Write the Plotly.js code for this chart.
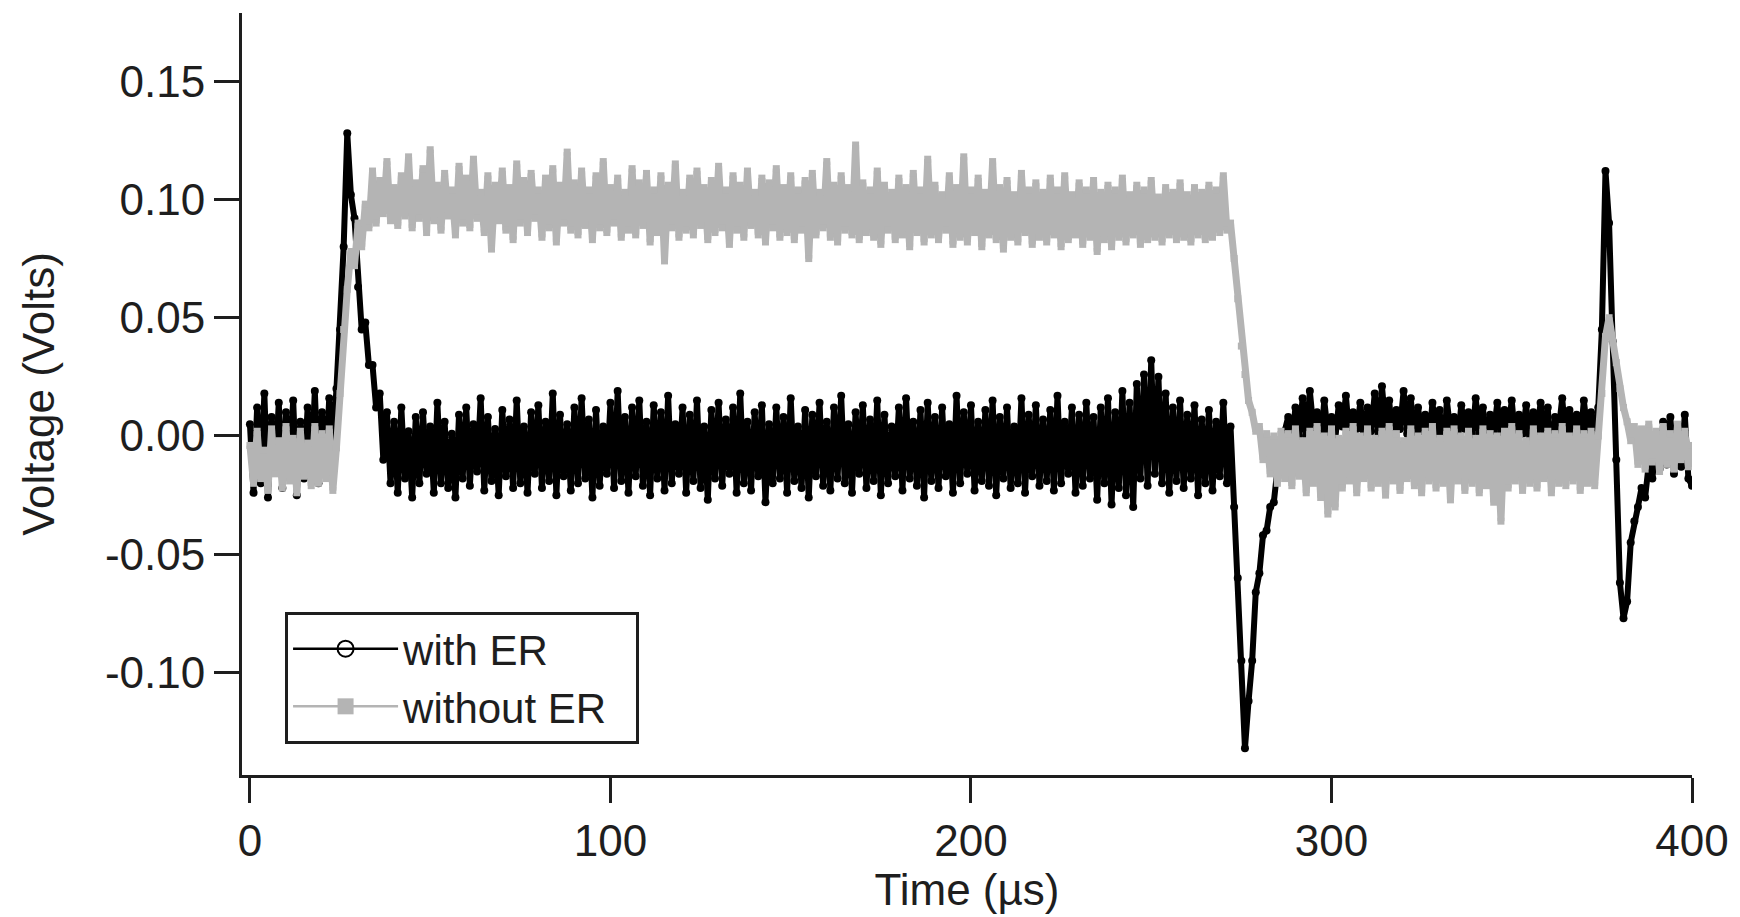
<!DOCTYPE html>
<html><head><meta charset="utf-8">
<script src="https://cdn.plot.ly/plotly-3.0.1.min.js"></script>
<style>html,body{margin:0;padding:0;background:#fff}#chart{width:1740px;height:917px}</style>
</head><body><div id="chart"></div>
<script>
// sampling grid (µs)
const tStart = 0, tStep = 1;
const seriesNames = ['with ER', 'without ER'];
// Voltage (V), one value per µs
const withER = [
.005,-.024,.012,-.02,.018,-.026,.008,-.015,.014,-.022,
.01,-.012,.015,-.025,.006,-.018,.012,-.016,.019,-.02,
.01,-.014,.016,-.004,.02,.045,.08,.128,.102,.092,
.063,.045,.048,.03,.03,.012,.018,-.01,.01,-.02,
.006,-.024,.012,-.018,.002,-.026,.008,-.02,.01,-.016,
.004,-.024,.014,-.02,.006,-.022,.001,-.026,.009,-.018,
.012,-.021,.005,-.015,.016,-.023,.008,-.019,.003,-.025,
.011,-.017,.007,-.022,.015,-.02,.004,-.024,.01,-.016,
.013,-.022,.006,-.019,.018,-.025,.009,-.017,.005,-.023,
.012,-.02,.016,-.018,.007,-.026,.011,-.021,.004,-.016,
.014,-.022,.019,-.019,.008,-.024,.012,-.017,.015,-.021,
.006,-.025,.013,-.018,.01,-.023,.017,-.02,.005,-.016,
.012,-.024,.009,-.019,.015,-.022,.004,-.027,.011,-.018,
.014,-.021,.007,-.016,.012,-.024,.018,-.02,.006,-.023,
.01,-.017,.013,-.028,.005,-.02,.012,-.018,.008,-.024,
.016,-.019,.004,-.022,.011,-.026,.009,-.017,.014,-.021,
.006,-.023,.012,-.018,.017,-.02,.005,-.024,.01,-.016,
.013,-.022,.007,-.019,.015,-.025,.009,-.02,.004,-.017,
.012,-.023,.016,-.018,.006,-.021,.011,-.026,.014,-.019,
.008,-.022,.012,-.017,.005,-.024,.017,-.02,.01,-.016,
.013,-.023,.006,-.019,.011,-.021,.015,-.025,.008,-.018,
.012,-.022,.004,-.02,.016,-.024,.009,-.017,.013,-.021,
.007,-.019,.011,-.023,.017,-.02,.006,-.016,.012,-.024,
.009,-.021,.014,-.018,.008,-.027,.012,-.02,.016,-.029,
.01,-.022,.019,-.025,.014,-.03,.022,-.018,.026,-.021,
.032,-.016,.025,-.02,.018,-.024,.012,-.019,.015,-.022,
.009,-.018,.013,-.025,.007,-.02,.011,-.023,.006,-.017,
.014,-.02,.004,-.03,-.06,-.095,-.132,-.112,-.095,-.066,
-.058,-.042,-.04,-.03,-.028,-.014,-.012,.002,.008,-.003,
.012,.0,.016,-.002,.019,.003,.01,-.004,.015,.001,
.008,-.002,.013,.004,.017,-.001,.01,.003,.014,-.003,
.012,.002,.018,.0,.021,.004,.015,-.002,.011,.003,
.019,.001,.016,-.003,.012,.002,.009,-.004,.014,.001,
.011,-.012,.015,.002,.008,-.003,.013,.003,.01,-.002,
.016,.001,.012,-.004,.009,.002,.014,-.001,.011,.003,
.015,-.002,.009,.001,.013,-.003,.01,.002,.014,-.001,
.012,-.013,.008,.002,.016,-.002,.011,.001,.009,-.003,
.015,.002,.01,-.001,.012,.045,.112,.09,.04,-.01,
-.062,-.077,-.07,-.045,-.036,-.03,-.022,-.026,-.012,-.018,
-.004,-.014,.006,-.012,.008,-.016,.004,-.013,.009,-.018,
-.021];
const withoutER = [
-.004,-.02,.002,-.018,-.006,-.023,.003,-.016,-.002,-.022,
.004,-.019,-.001,-.024,.002,-.017,-.003,-.021,.004,-.02,
.001,-.018,.003,-.023,-.005,.018,.045,.062,.078,.072,
.09,.08,.098,.088,.112,.09,.108,.094,.116,.091,
.105,.089,.11,.093,.118,.088,.107,.092,.113,.086,
.121,.091,.106,.087,.111,.093,.104,.085,.114,.09,
.109,.088,.117,.092,.103,.086,.11,.079,.106,.091,
.112,.087,.105,.083,.115,.09,.108,.086,.111,.092,
.104,.084,.109,.088,.113,.082,.106,.09,.12,.087,
.107,.085,.112,.089,.104,.083,.11,.088,.116,.086,
.105,.09,.109,.084,.103,.087,.113,.085,.107,.089,
.111,.082,.104,.086,.11,.074,.106,.088,.115,.084,
.103,.087,.109,.085,.112,.089,.105,.083,.108,.086,
.114,.088,.104,.081,.11,.087,.106,.084,.112,.089,
.103,.085,.109,.082,.107,.088,.113,.084,.105,.086,
.11,.083,.104,.087,.108,.075,.111,.085,.103,.088,
.116,.084,.106,.082,.11,.087,.105,.085,.123,.083,
.107,.086,.104,.084,.112,.081,.106,.087,.103,.083,
.109,.085,.105,.08,.111,.086,.104,.082,.117,.085,
.106,.083,.102,.087,.11,.081,.105,.084,.118,.082,
.104,.086,.109,.08,.103,.085,.116,.083,.105,.079,
.108,.084,.102,.082,.111,.086,.104,.081,.107,.084,
.103,.082,.109,.085,.104,.08,.11,.083,.102,.085,
.107,.081,.104,.084,.108,.078,.103,.083,.106,.08,
.104,.084,.109,.082,.102,.085,.106,.081,.104,.083,
.108,.084,.101,.082,.105,.085,.103,.083,.107,.084,
.102,.082,.105,.085,.103,.083,.106,.084,.104,.086,
.11,.087,.09,.075,.058,.038,.026,.015,.01,.002,
.004,-.01,.001,-.016,.0,-.02,.002,-.018,.001,-.021,
.003,-.017,-.002,-.024,.002,-.02,.004,-.026,.0,-.033,
.003,-.03,-.001,-.022,.002,-.019,.004,-.024,.0,-.018,
.003,-.022,-.001,-.02,.002,-.025,.004,-.019,.001,-.023,
-.002,-.018,.003,-.021,.0,-.024,.002,-.019,.004,-.022,
-.001,-.02,.002,-.027,.003,-.019,.0,-.023,.002,-.02,
-.001,-.024,.003,-.021,.001,-.028,.0,-.036,.002,-.022,
.004,-.019,.001,-.023,-.002,-.02,.003,-.022,.0,-.018,
.002,-.024,.001,-.02,.004,-.021,.0,-.019,.003,-.023,
.001,-.02,.002,-.021,.0,.018,.042,.05,.04,.031,
.02,.012,.006,-.002,.004,-.012,.003,-.014,.005,-.011,
.002,-.015,.004,-.012,.001,-.014,.005,-.01,.002,-.013,
-.004];
const xTickVals = [0, 100, 200, 300, 400];
const yTickVals = [-0.10, -0.05, 0, 0.05, 0.10, 0.15];
const yTickText = ['-0.10', '-0.05', '0.00', '0.05', '0.10', '0.15'];

const time = withER.map((_, i) => tStart + i * tStep);
const BLACK = '#000000', GRAY = '#b4b4b4', INK = '#1e1e1e';
const FONT = '"Liberation Sans", Arial, Helvetica, sans-serif';

const traces = [
  {x: time, y: withER, type: 'scatter', mode: 'lines+markers', showlegend: false,
   line: {color: BLACK, width: 6}, marker: {symbol: 'circle', size: 8, color: BLACK}},
  {x: time, y: withoutER, type: 'scatter', mode: 'lines+markers', showlegend: false,
   line: {color: GRAY, width: 7}, marker: {symbol: 'square', size: 7, color: GRAY}},
  // legend entries
  {x: [null], y: [null], type: 'scatter', mode: 'lines+markers', name: seriesNames[0],
   line: {color: BLACK, width: 2.5}, marker: {symbol: 'circle-open', size: 16, color: BLACK, line: {width: 2, color: BLACK}}},
  {x: [null], y: [null], type: 'scatter', mode: 'lines+markers', name: seriesNames[1] + '\u00a0\u00a0',
   line: {color: GRAY, width: 2.5}, marker: {symbol: 'square', size: 16, color: GRAY}}
];

const layout = {
  width: 1740, height: 917,
  margin: {l: 242, r: 48, t: 13, b: 142},
  paper_bgcolor: '#fff', plot_bgcolor: '#fff',
  font: {family: FONT, color: INK, size: 44},
  showlegend: true,
  legend: {x: 0.0297, y: 0.214, xanchor: 'left', yanchor: 'top',
    bordercolor: INK, borderwidth: 3, bgcolor: '#fff',
    font: {family: FONT, size: 42, color: INK}, itemwidth: 105, tracegroupgap: 0},
  xaxis: {
    range: [-2.2, 400], showgrid: false, zeroline: false,
    showline: true, linecolor: INK, linewidth: 3,
    ticks: 'outside', ticklen: 25, tickwidth: 3, tickcolor: INK,
    tickvals: xTickVals, ticktext: xTickVals.map(String),
    tickfont: {family: FONT, size: 44, color: INK},
    title: {text: 'Time (µs)', font: {family: FONT, size: 44, color: INK}, standoff: 9}
  },
  yaxis: {
    range: [-0.1433, 0.1788], showgrid: false, zeroline: false,
    showline: true, linecolor: INK, linewidth: 3,
    ticks: 'outside', ticklen: 25, tickwidth: 3, tickcolor: INK,
    tickvals: yTickVals, ticktext: yTickText,
    tickfont: {family: FONT, size: 44, color: INK},
    title: {text: 'Voltage (Volts)', font: {family: FONT, size: 44, color: INK}, standoff: 37}
  }
};

Plotly.newPlot('chart', traces, layout, {displayModeBar: false, staticPlot: true});
</script>
</body></html>
